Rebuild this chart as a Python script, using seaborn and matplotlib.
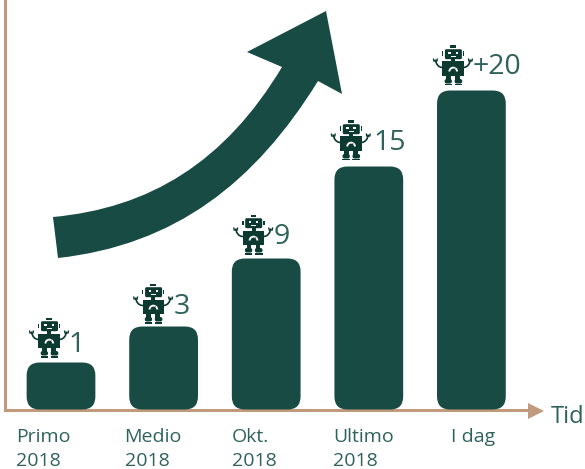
import numpy as np
import pandas as pd
import matplotlib
matplotlib.use("Agg")
import matplotlib.pyplot as plt
import seaborn as sns
from matplotlib.patches import FancyBboxPatch, PathPatch, Polygon, Rectangle, Wedge
from matplotlib.path import Path
from matplotlib.transforms import Affine2D, IdentityTransform, ScaledTranslation

# bar heights, the labels above them are not to scale
periods = ["Primo\n2018", "Medio\n2018", "Okt.\n2018", "Ultimo\n2018", "I dag"]
heights = [47, 83, 151, 243, 319]
counts = ["1", "3", "9", "15", "+20"]

GREEN = "#174b43"
ROBOT = "#0c3a31"
TEXT = "#2f625b"
BROWN = "#c09a7c"
W, H = 585, 469

sns.set_theme(style="white")
plt.rcParams["font.family"] = ["Open Sans", "DejaVu Sans"]

df = pd.DataFrame({"period": periods, "height": heights})

fig = plt.figure(figsize=(W / 100, H / 100), dpi=100, facecolor="white")
ax = fig.add_axes([5 / W, (H - 409.5) / H, 525 / W, 409.5 / H])
sns.barplot(data=df, x="period", y="height", color=GREEN, width=0.67, saturation=1, ax=ax)

ax.set_xlim((5 - 61) / 102.6, (530 - 61) / 102.6)
ax.set_ylim(0, 409.5)
ax.set_xlabel("")
ax.set_ylabel("")
ax.set_yticks([])
for side in ["top", "right"]:
    ax.spines[side].set_visible(False)
for side in ["left", "bottom"]:
    ax.spines[side].set_color(BROWN)
    ax.spines[side].set_linewidth(2.2)

# picture pixels, y going down
px = Affine2D().scale(1, -1).translate(0, H)

# labels are not centred under the bars in the original
ax.tick_params(axis="x", length=0, pad=13)
label_shift = [-45, -39, -34, -36, -20]
for lab, dx in zip(ax.get_xticklabels(), label_shift):
    lab.set_ha("left")
    lab.set_va("top")
    lab.set_color(TEXT)
    lab.set_fontsize(14)
    lab.set_linespacing(1.45)
    lab.set_transform(lab.get_transform() + ScaledTranslation(dx / 100, 0, fig.dpi_scale_trans))

# swap the square bars for rounded ones
bars = list(ax.patches)
tops = []
centres = []
for bar in bars:
    box = bar.get_window_extent()
    bar.set_visible(False)
    fig.add_artist(FancyBboxPatch((box.x0, box.y0), box.width, box.height,
                                  boxstyle="round,pad=0,rounding_size=13",
                                  fc=GREEN, ec="none", transform=IdentityTransform(), zorder=3))
    centres.append((box.x0 + box.x1) / 2)
    tops.append(H - box.y1)


def draw_robot(cx, top):
    # robot icon, drawn in a 40px tall box
    t = Affine2D().translate(cx, top) + px

    def add(p):
        p.set_transform(t)
        p.set_zorder(4)
        fig.add_artist(p)

    def rect(x, y, w, h, color=ROBOT):
        add(Rectangle((x, y), w, h, fc=color, ec="none"))

    rect(-2.7, 0, 5.7, 2.2)
    add(FancyBboxPatch((-8, 3.7), 17, 10, boxstyle="round,pad=0,rounding_size=1.5", fc=ROBOT, ec="none"))
    rect(-4.5, 6.5, 2.4, 2.4, "white")
    rect(2.7, 6.5, 2.4, 2.4, "white")
    rect(-2, 10.8, 5, 1, "white")
    rect(-11, 6, 1.3, 4.5)
    rect(10, 6, 1.3, 4.5)
    rect(-1.7, 13.7, 4, 2.3)
    rect(-10.5, 16, 21.5, 14.5)
    # gauge on the chest
    add(Wedge((0.3, 26), 4.8, 180, 360, width=1.9, fc="white", ec="none"))
    add(Polygon([(-0.6, 26), (1.2, 26), (3, 21.5)], fc=ROBOT, ec="none"))
    # arms
    for s in (-1, 1):
        verts = [(s * 10, 22), (s * 15, 22), (s * 17, 18), (s * 17.5, 14)]
        add(PathPatch(Path(verts, [Path.MOVETO, Path.CURVE4, Path.CURVE4, Path.CURVE4]),
                      fc="none", ec=ROBOT, lw=1.2))
        claw = [(s * 19.5, 13), (s * 19, 15.5), (s * 17.5, 15.5), (s * 16, 15.5), (s * 15.5, 13)]
        add(PathPatch(Path(claw), fc="none", ec=ROBOT, lw=1))
    # legs and feet
    for x0 in (-6.7, 2.3):
        rect(x0, 30.3, 4.6, 4.5)
    add(FancyBboxPatch((-8.3, 33.5), 7.3, 4.5, boxstyle="round,pad=0,rounding_size=2", fc=ROBOT, ec="none"))
    add(FancyBboxPatch((1.7, 33.5), 7.6, 4.5, boxstyle="round,pad=0,rounding_size=2", fc=ROBOT, ec="none"))
    rect(-8.3, 38.7, 7.3, 1.3)
    rect(1.7, 38.7, 7.6, 1.3)


robot_dx = [-12, -10.5, -13, -18, -18.5]
robot_gap = [45, 43, 44, 46, 45]
count_x = [68, 174, 274, 373, 473]
count_dy = [21, 23, 25, 27, 26]
for i, c in enumerate(counts):
    draw_robot(centres[i] + robot_dx[i], tops[i] - robot_gap[i])
    fig.text(count_x[i], tops[i] - count_dy[i] - 0.5, c, transform=px, color=TEXT, fontsize=20.5,
             ha="left", va="center_baseline", zorder=4)

# big growth arrow
arrow_codes = [Path.MOVETO, Path.CURVE4, Path.CURVE4, Path.CURVE4, Path.LINETO, Path.LINETO,
               Path.LINETO, Path.LINETO, Path.CURVE4, Path.CURVE4, Path.CURVE4, Path.CLOSEPOLY]
arrow_verts = [(53, 217), (150, 208), (225, 162), (282, 67), (247, 52), (326, 11), (342, 94),
               (318, 81), (255, 183), (175, 245), (58, 258), (53, 217)]
fig.add_artist(PathPatch(Path(arrow_verts, arrow_codes), fc=GREEN, ec="none", transform=px, zorder=3))

# head of the time axis
fig.add_artist(Polygon([(528, 403), (544, 411), (528, 419)], fc=BROWN, ec="none", transform=px))
fig.text(551, 414, "Tid", transform=px, color=TEXT, fontsize=17, ha="left", va="center_baseline")

fig.savefig("out.png", dpi=100, facecolor="white")
